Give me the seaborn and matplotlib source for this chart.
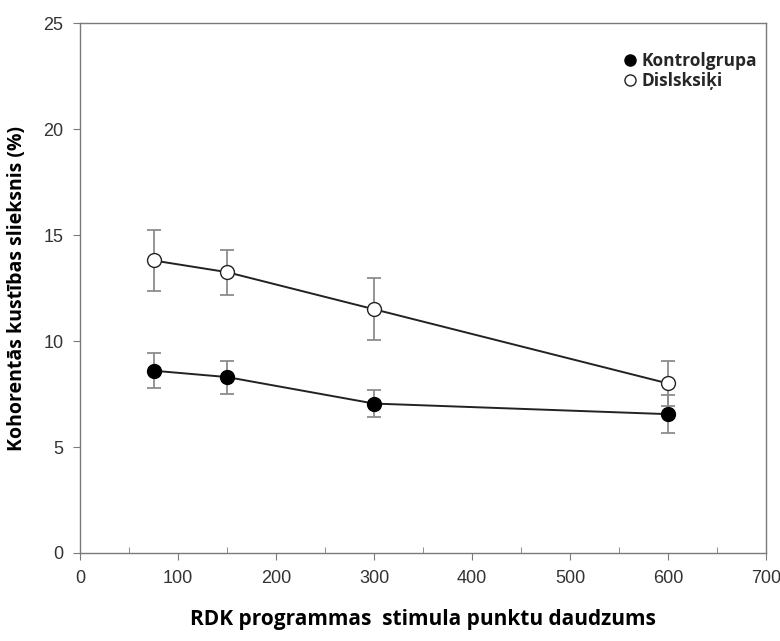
import matplotlib
matplotlib.use("Agg")
import matplotlib.pyplot as plt
import seaborn as sns
import pandas as pd
from matplotlib.ticker import MultipleLocator

dots = [75, 150, 300, 600]
control_mean = [8.6, 8.3, 7.05, 6.55]
control_err = [0.82, 0.78, 0.64, 0.9]
dys_mean = [13.8, 13.25, 11.5, 8.0]
dys_err = [1.42, 1.06, 1.46, 1.05]
groups = ["Kontrolgrupa", "Dislsksiķi"]

df = pd.DataFrame({
    "dots": dots * 2,
    "mean": control_mean + dys_mean,
    "err": control_err + dys_err,
    "group": [groups[0]] * 4 + [groups[1]] * 4,
})

sns.set_style("white")
fig = plt.figure(figsize=(7.8, 6.41), dpi=100)
ax = fig.add_axes([0.1026, 0.1373, 0.8794, 0.8267])

for g in groups:
    sub = df[df.group == g]
    ax.errorbar(sub["dots"], sub["mean"], yerr=sub["err"], fmt="none",
                ecolor="#8c8c8c", elinewidth=1.3, capsize=5, capthick=1.3, zorder=1)

sns.lineplot(data=df, x="dots", y="mean", hue="group", hue_order=groups,
             palette=["#222222", "#222222"], linewidth=1.4, legend=False,
             ax=ax, zorder=2, estimator=None, sort=True)

sub = df[df.group == groups[0]]
ax.plot(sub["dots"], sub["mean"], "o", ms=10, mfc="black", mec="black",
        mew=1, zorder=3, label=groups[0], ls="none")
sub = df[df.group == groups[1]]
ax.plot(sub["dots"], sub["mean"], "o", ms=10, mfc="white", mec="#222222",
        mew=1, zorder=3, label=groups[1], ls="none")

ax.set_xlim(0, 700)
ax.set_ylim(0, 25)
ax.xaxis.set_major_locator(MultipleLocator(100))
ax.xaxis.set_minor_locator(MultipleLocator(50))
ax.yaxis.set_major_locator(MultipleLocator(5))

for s in ax.spines.values():
    s.set_color("#7a7a7a")
    s.set_linewidth(1.0)

ax.tick_params(axis="both", which="major", direction="out", length=5,
               color="#7a7a7a", labelsize=13, labelcolor="#333333", pad=7,
               bottom=True, left=True)
ax.tick_params(axis="x", which="minor", direction="in", length=4,
               color="#7a7a7a", bottom=True)
for lab in ax.get_xticklabels() + ax.get_yticklabels():
    lab.set_fontfamily(["Liberation Sans", "DejaVu Sans"])
    lab.set_fontsize(13)

ax.set_xlabel("RDK programmas  stimula punktu daudzums", fontsize=15,
              fontweight="bold", family=["Open Sans", "DejaVu Sans"], labelpad=16,
              color="black")
ax.set_ylabel("Kohorentās kustības slieksnis (%)", fontsize=14,
              fontweight="bold", family=["Open Sans", "DejaVu Sans"], labelpad=12,
              color="black")

leg = ax.legend(loc="upper right", bbox_to_anchor=(1.01, 0.975), frameon=False,
                handletextpad=0.15, labelspacing=0.1, handlelength=1.0,
                prop={"family": ["Open Sans", "DejaVu Sans"], "weight": "bold", "size": 12.5},
                markerscale=0.8)

fig.savefig("out.png", dpi=100)
